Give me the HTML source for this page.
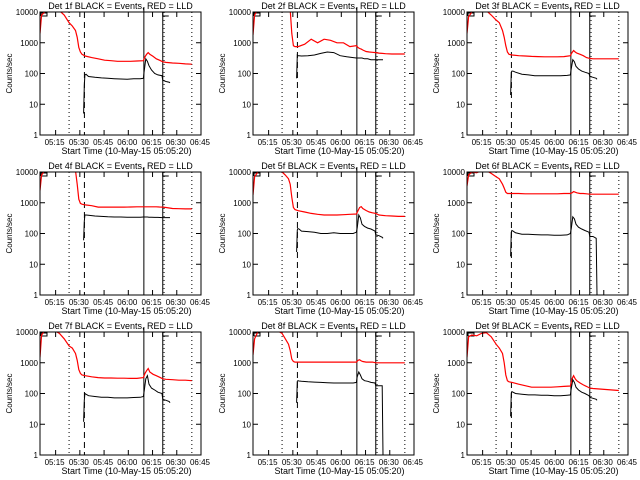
<!DOCTYPE html>
<html><head><meta charset="utf-8"><style>
html,body{margin:0;padding:0;background:#fff;}
svg{display:block;font-family:"Liberation Sans",sans-serif;}
</style></head><body>
<svg id="chart" width="640" height="480" viewBox="0 0 640 480"></svg>
<script>
// shared time grids (minutes after 05:05:20)
const redTimes = [0,1,3,6,9,12,15,18,20,22,23,24,25,26,28,32,36,40,44,48,52,56,60,64,65,66,67,68,70,72,74,76,78,82,86,90,94];
const blackTimes = [27.0,27.4,27.8,28.5,30,34,38,42,46,50,54,58,62,64,64.5,65.5,66.5,67.5,69,71,73,75.5,76,78,80,80.5];
const detLabels = ["1f","2f","3f","4f","5f","6f","7f","8f","9f"];
const tickLabels = ["05:15","05:30","05:45","06:00","06:15","06:30","06:45"];
const tickMinutes = [9.67,24.67,39.67,54.67,69.67,84.67,99.67];
const yTickValues = [1,10,100,1000,10000];
const yTickLabels = ["1","10","100","1000","10000"];
const markerLines = [18,27.5,64.3,76,76.8,94];
const red1 = [2000,8000,10000,11000,11000,11000,8000,4500,3500,2500,1500,700,500,420,370,330,300,270,260,250,250,250,255,260,350,420,480,420,360,300,270,240,230,220,215,205,200];
const red2 = [1800,8000,12000,12000,12000,12000,12000,12000,12000,12000,12000,2000,800,750,750,900,1300,1000,1300,1200,1000,1000,750,800,700,650,620,580,520,500,490,480,460,440,430,430,430];
const red3 = [2000,7000,10000,11000,11000,11000,8000,5500,4500,2500,1500,800,500,420,400,380,370,360,355,350,350,350,355,380,480,560,500,460,420,380,330,310,300,300,300,300,300];
const red4 = [2500,8000,11000,11000,11000,11000,11000,11000,11000,11000,4000,1300,950,900,850,800,720,720,720,720,720,730,740,740,740,740,740,740,740,740,730,720,700,650,640,630,630];
const red5 = [1800,7000,10000,11000,10000,11000,11000,10000,8000,6000,4000,1500,700,600,550,500,450,420,400,400,400,410,420,430,550,700,750,650,560,500,470,450,400,380,370,360,360];
const red6 = [3500,8000,10000,9500,11000,11000,9000,7000,6000,4000,3000,2200,2000,2000,2000,2000,1950,1950,1950,1950,1950,1950,2000,2000,2100,2300,2200,2100,2000,2000,1950,1900,1900,1900,1900,1900,1900];
const red7 = [1500,8000,11000,12000,11000,9000,6000,3500,3000,2000,1200,600,450,400,380,350,330,320,320,315,315,310,310,330,450,550,650,500,420,380,340,300,290,280,270,270,260];
const red8 = [1800,6000,10000,11000,10000,11000,11000,9000,6000,4000,2500,1300,1100,1050,1050,1050,1050,1050,1050,1050,1050,1050,1050,1050,1200,1250,1150,1100,1050,1050,1050,1000,1000,1000,1000,1000,1000];
const red9 = [1500,7000,8000,7500,9000,9500,7000,4000,3000,2000,1000,400,260,240,230,200,180,160,160,160,160,165,170,175,300,380,300,260,220,190,170,150,145,140,135,130,125];
const black1 = [5,40,90,95,80,75,72,70,68,66,65,67,68,70,120,300,250,180,130,100,90,85,60,55,52,50];
const black2 = [70,400,380,380,370,380,400,450,500,480,380,350,330,320,320,320,320,320,300,300,280,280,280,280,280,280];
const black3 = [20,110,120,120,110,95,90,85,85,85,85,85,87,90,140,280,240,170,140,120,110,100,80,75,70,65];
const black4 = [60,250,400,400,390,370,360,350,345,345,340,340,340,345,345,345,345,340,340,335,335,330,330,330,330,330];
const black5 = [25,130,145,140,120,115,110,100,100,105,100,100,100,110,150,400,320,200,170,150,140,120,90,85,75,70];
const black6 = [18,110,125,120,105,95,95,92,90,90,88,88,90,100,140,350,300,200,160,140,125,110,80,80,70,1];
const black7 = [12,60,100,95,85,80,75,75,72,72,72,74,75,80,120,300,380,200,150,130,110,100,65,60,55,50];
const black8 = [50,250,260,255,250,240,235,230,225,220,220,220,220,230,350,500,400,300,260,250,230,220,180,180,180,1];
const black9 = [18,100,115,110,100,95,90,90,88,88,85,85,88,90,140,280,230,160,130,110,100,85,75,70,65,60];
const redSeries = [red1,red2,red3,red4,red5,red6,red7,red8,red9];
const blackSeries = [black1,black2,black3,black4,black5,black6,black7,black8,black9];

const NS = "http://www.w3.org/2000/svg";
const svg = document.getElementById("chart");
const colLeft = [40,253,467], rowTop = [12,172,332], W = 161, H = 123, TMAX = 99.67;
function mk(tag, attrs, parent){const e=document.createElementNS(NS,tag);for(const k in attrs)e.setAttribute(k,attrs[k]);(parent||svg).appendChild(e);return e;}

for (let p=0;p<9;p++){
  const L = colLeft[p%3], T = rowTop[Math.floor(p/3)];
  const xs = t => L + t/TMAX*W;
  const ys = v => T + (4 - Math.log10(Math.max(v,1)))*H/4;
  const g = mk("g",{});
  
  
  const cp = mk("clipPath",{id:"clip"+p},g);
  mk("rect",{x:L,y:T,width:W,height:H},cp);
  const title = mk("text",{x:L+W/2,y:T-3,"text-anchor":"middle","font-size":"9"},g);
  title.textContent = "Det "+detLabels[p]+" BLACK = Events, RED = LLD";
  
  
  const mkp = mk("path",{d:`M${L+1},${T+4}V${T+1}H${L+7}V${T+4}H${L+1}M${xs(64.3)},${T}V${T-5}M${xs(76)},${T}V${T+4}H${xs(76)+6}`,stroke:"#000",fill:"none","stroke-width":"1"},g);
  
  
  markerLines.forEach((m,i)=>{
    const dash = (i===0||i===4||i===5)?"1,3":(i===1?"6,4":"none");
    const ln = mk("line",{x1:xs(m),x2:xs(m),y1:T,y2:T+H,stroke:"#000","stroke-width":"1","stroke-dasharray":dash},g);
    
    
  });
  const rp = mk("polyline",{points:redTimes.map((t,i)=>xs(t).toFixed(1)+","+ys(redSeries[p][i]).toFixed(1)).join(" "),fill:"none",stroke:"#f00","stroke-width":"1.2","clip-path":`url(#clip${p})`},g);
  
  
  const bp = mk("polyline",{points:blackTimes.map((t,i)=>xs(t).toFixed(1)+","+ys(blackSeries[p][i]).toFixed(1)).join(" "),fill:"none",stroke:"#000","stroke-width":"1","clip-path":`url(#clip${p})`},g);
  
  
  const box = mk("rect",{x:L,y:T,width:W,height:H,fill:"none",stroke:"#000","stroke-width":"1"},g);
  
  
  tickMinutes.forEach((m,i)=>{
    const x = xs(m);
    mk("line",{x1:x,x2:x,y1:T+H,y2:T+H-5,stroke:"#000"},g);
    mk("line",{x1:x,x2:x,y1:T,y2:T+5,stroke:"#000"},g);
    const tl = mk("text",{x:x-1,y:T+H+10,"text-anchor":"middle","font-size":"8"},g);
    tl.textContent = tickLabels[i];
    
    
  });
  yTickValues.forEach((v,i)=>{
    const y = ys(v);
    mk("line",{x1:L,x2:L+5,y1:y,y2:y,stroke:"#000"},g);
    mk("line",{x1:L+W,x2:L+W-5,y1:y,y2:y,stroke:"#000"},g);
    const yl = mk("text",{x:L-2,y:y+3,"text-anchor":"end","font-size":"8"},g);
    yl.textContent = yTickLabels[i];
    
    
  });
  const xt = mk("text",{x:L+W/2+6,y:T+H+19,"text-anchor":"middle","font-size":"9"},g);
  xt.textContent = "Start Time (10-May-15 05:05:20)";
  
  
  const yt = mk("text",{x:0,y:0,"text-anchor":"middle","font-size":"8",transform:`translate(${L-28},${T+H/2}) rotate(-90)`},g);
  yt.textContent = "Counts/sec";
  
  
}
</script>
</body></html>
